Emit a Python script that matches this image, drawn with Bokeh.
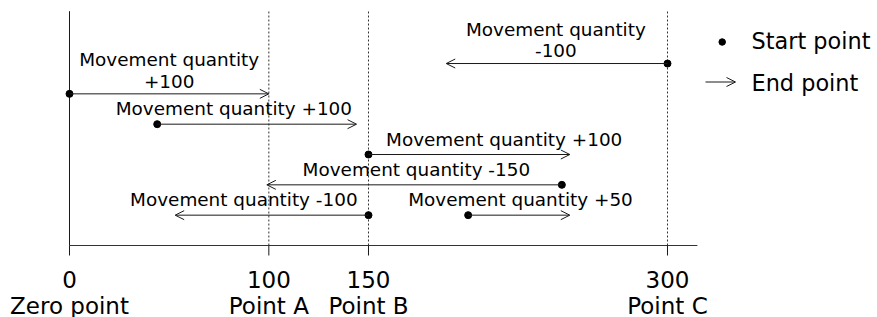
from bokeh.plotting import figure
from bokeh.models import ColumnDataSource, Range1d, Arrow, OpenHead
from bokeh.core.properties import value
from bokeh.embed import file_html
from bokeh.resources import INLINE

# ---------------- data ----------------
start_pos = [0, 44, 150, 247, 150, 200, 300]
end_pos = [100, 144, 251, 99, 53, 251, 189]
lane = [5, 4, 3, 2, 1, 1, 6]
labels = ["Movement quantity\n+100", "Movement quantity +100", "Movement quantity +100",
          "Movement quantity -150", "Movement quantity -100", "Movement quantity +50",
          "Movement quantity\n-100"]
tick_values = [0, 100, 150, 300]
tick_numbers = ["0", "100", "150", "300"]
tick_names = ["Zero point", "Point A", "Point B", "Point C"]
axis_end = 315
legend_labels = ["Start point", "End point"]

# ---------------- layout ----------------
FONT = "DejaVu Sans"
INK = "#1a1a1a"
W, H = 877, 317
SCALE = 1.9933           # px per unit
X0_PX = 69               # canvas px of value 0
ROW_PX = 30.33
AXIS_PX = 245            # canvas px of the axis line
label_dx = [0, -23, 35, 2, -28, 1.5, -1]   # px shift of label centres
UP_SINGLE = 15.5
UP_TWO = [34.2, 12.8]
TICK_LEN = 10
NUM_DOWN = 33.5          # px below axis line (text centre)
NAME_DOWN = 60

x_start = -X0_PX / SCALE
x_end = (W - X0_PX) / SCALE
y_top = AXIS_PX / ROW_PX
y_bot = -(H - AXIS_PX) / ROW_PX

def px_down(d):
    return -d / ROW_PX

p = figure(width=W, height=H, output_backend="svg", toolbar_location=None,
           x_range=Range1d(x_start, x_end), y_range=Range1d(y_bot, y_top),
           x_axis_location=None, y_axis_location=None,
           min_border_left=0, min_border_right=0, min_border_top=0, min_border_bottom=0)
p.outline_line_color = None
p.grid.visible = False
p.background_fill_color = "white"
p.border_fill_color = "white"

# axis line, ticks and tick labels
p.segment(x0=[0], y0=[0], x1=[axis_end], y1=[0], line_color="#333333", line_width=1)
p.segment(x0=tick_values, y0=[0] * 4, x1=tick_values, y1=[px_down(TICK_LEN)] * 4,
          line_color=INK, line_width=1)
p.text(x=tick_values + tick_values,
       y=[px_down(NUM_DOWN)] * 4 + [px_down(NAME_DOWN)] * 4,
       text=tick_numbers + tick_names,
       text_font=value(FONT), text_font_size="23px", text_color="black",
       text_align="center", text_baseline="middle")

# vertical reference lines
top_line = (AXIS_PX - 10.7) / ROW_PX
p.segment(x0=[0], y0=[0], x1=[0], y1=[top_line], line_color=INK, line_width=1)
p.segment(x0=tick_values[1:], y0=[0] * 3, x1=tick_values[1:], y1=[top_line] * 3,
          line_color="#333333", line_width=1, line_dash="2 2")

# arrows
src = ColumnDataSource(dict(x0=start_pos, x1=end_pos, y=lane))
p.add_layout(Arrow(source=src, x_start="x0", y_start="y", x_end="x1", y_end="y",
                   line_color=INK, line_width=1,
                   end=OpenHead(size=9, line_color=INK, line_width=1)))
p.scatter(x=start_pos, y=lane, size=7, color="black")

# labels (split into lines)
lx, ly, lt, loff, lxo = [], [], [], [], []
for s, e, r, txt, dx in zip(start_pos, end_pos, lane, labels, label_dx):
    lines = txt.split("\n")
    ups = [UP_SINGLE] if len(lines) == 1 else UP_TWO
    for line, up in zip(lines, ups):
        lx.append((s + e) / 2)
        ly.append(r)
        lt.append(line)
        lxo.append(dx)
        loff.append(-up)
p.text(x=lx, y=ly, text=lt, x_offset=lxo, y_offset=loff,
       text_font=value(FONT), text_font_size="18.4px", text_align="center",
       text_baseline="middle", text_color="black")

# legend (manual)
LEG_DOT_X = (721.7 - X0_PX) / SCALE
LEG_AR_X0 = (705 - X0_PX) / SCALE
LEG_AR_X1 = (735 - X0_PX) / SCALE
LEG_TX = (751 - X0_PX) / SCALE
LEG_Y1 = (AXIS_PX - 41.5) / ROW_PX
LEG_Y2 = (AXIS_PX - 81.5) / ROW_PX
p.scatter(x=[LEG_DOT_X], y=[LEG_Y1], size=6.5, color="black")
p.add_layout(Arrow(x_start=LEG_AR_X0, y_start=LEG_Y2, x_end=LEG_AR_X1, y_end=LEG_Y2,
                   line_color=INK, line_width=1,
                   end=OpenHead(size=9, line_color=INK, line_width=1)))
p.text(x=[LEG_TX, LEG_TX], y=[LEG_Y1, LEG_Y2], text=legend_labels,
       y_offset=[-1, 0.5], text_font=value(FONT), text_font_size="22.4px",
       text_align="left", text_baseline="middle", text_color="black")

open("out.html", "w").write(file_html(p, INLINE))
